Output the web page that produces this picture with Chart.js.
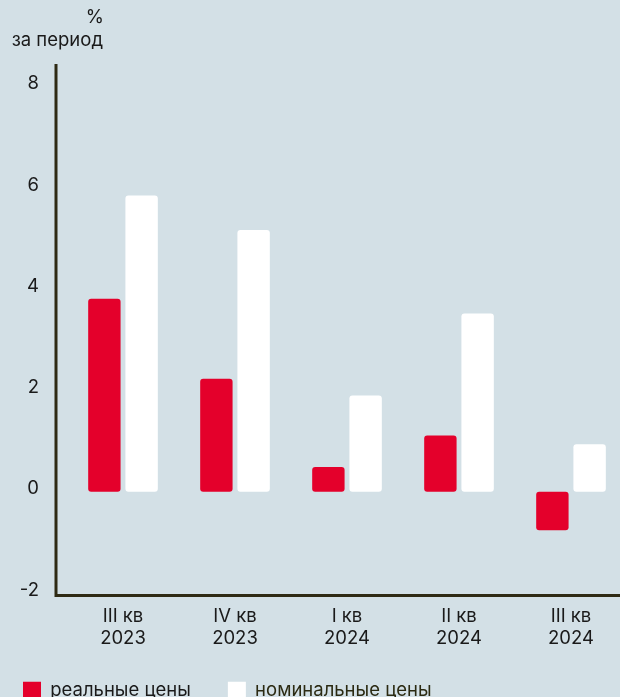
<!DOCTYPE html>
<html>
<head>
<meta charset="utf-8">
<script src="https://cdn.jsdelivr.net/npm/chart.js@4.4.1/dist/chart.umd.min.js"></script>
<style>
  html, body { margin: 0; padding: 0; overflow: hidden; background: #d3e0e6; }
  canvas { display: block; }
</style>
</head>
<body>
<canvas id="chart" width="640" height="710" style="width:640px;height:710px"></canvas>
<script>
const quarters = [["III кв", "2023"], ["IV кв", "2023"], ["I кв", "2024"], ["II кв", "2024"], ["III кв", "2024"]];
const realPrices = [3.81, 2.23, 0.49, 1.11, -0.76];
const nominalPrices = [5.85, 5.17, 1.90, 3.52, 0.94];
const yTicks = [-2, 0, 2, 4, 6, 8];
const unitLines = ["%", "за период"];

const bg = "#d3e0e6";
const red = "#e4002b";
const axisColor = "#2e2a14";
const textColor = "#1a1a1a";
const fontFamily = "Inter, 'Noto Sans', sans-serif";
const fontSize = 18.5;

// axis lines sit a bit left of the plot area, like in the original
const axesPlugin = {
  id: "axes",
  afterLayout(chart) {
    // move legend left so it starts near the edge
    chart.legend.left -= 14;
    chart.legend.right -= 14;
  },
  beforeDraw(chart) {
    const ctx = chart.ctx;
    ctx.save();
    ctx.fillStyle = bg;
    ctx.fillRect(0, 0, chart.width, chart.height);
    ctx.restore();
  },
  afterDraw(chart) {
    const { ctx, chartArea } = chart;
    const x0 = chartArea.left - 11;
    ctx.save();
    ctx.strokeStyle = axisColor;
    ctx.lineWidth = 3;
    ctx.beginPath();
    ctx.moveTo(x0, chartArea.top);
    ctx.lineTo(x0, chartArea.bottom);
    ctx.lineTo(chart.width, chartArea.bottom);
    ctx.stroke();

    ctx.fillStyle = textColor;
    ctx.font = fontSize + "px " + fontFamily;
    ctx.textAlign = "right";
    ctx.textBaseline = "alphabetic";
    ctx.fillText(unitLines[0], 104, 23);
    ctx.fillText(unitLines[1], 103, 46);
    ctx.restore();
  }
};

new Chart(document.getElementById("chart"), {
  type: "bar",
  data: {
    labels: quarters,
    datasets: [
      {
        label: "реальные цены",
        data: realPrices,
        backgroundColor: red,
        borderRadius: 3,
        borderSkipped: false,
        categoryPercentage: 0.665,
        barPercentage: 0.87
      },
      {
        label: "номинальные цены",
        data: nominalPrices,
        backgroundColor: "#ffffff",
        borderRadius: 3,
        borderSkipped: false,
        categoryPercentage: 0.665,
        barPercentage: 0.87
      }
    ]
  },
  options: {
    responsive: false,
    animation: false,
    layout: { padding: { top: 64, right: 13, left: 0, bottom: 0 } },
    plugins: {
      tooltip: { enabled: false },
      legend: {
        position: "bottom",
        align: "start",
        labels: {
          boxWidth: 18,
          boxHeight: 18,
          padding: 37,
          font: { family: fontFamily, size: fontSize },
          generateLabels(chart) {
            const colors = [textColor, "#2b2a12"];
            return chart.data.datasets.map((ds, i) => ({
              text: ds.label,
              fillStyle: ds.backgroundColor,
              strokeStyle: ds.backgroundColor,
              lineWidth: 0,
              fontColor: colors[i],
              datasetIndex: i
            }));
          }
        }
      }
    },
    scales: {
      x: {
        grid: { display: false, drawTicks: false },
        border: { display: false },
        ticks: {
          color: textColor,
          font: { family: fontFamily, size: fontSize, lineHeight: 1.2 },
          padding: 10,
          maxRotation: 0,
          autoSkip: false
        },
        afterFit(s) { s.height = 49; }
      },
      y: {
        min: -2.05,
        max: 8.45,
        grid: { display: false, drawTicks: false },
        border: { display: false },
        afterBuildTicks(s) { s.ticks = yTicks.map(v => ({ value: v })); },
        ticks: {
          color: textColor,
          font: { family: fontFamily, size: fontSize },
          padding: 28,
          labelOffset: -3
        },
        afterFit(s) { s.width = 67; }
      }
    }
  },
  plugins: [axesPlugin]
});
</script>
</body>
</html>
